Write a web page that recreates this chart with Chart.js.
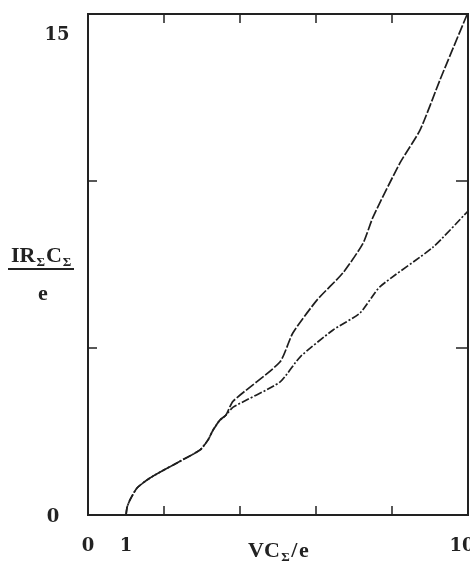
<!DOCTYPE html>
<html>
<head>
<meta charset="utf-8">
<script src="https://cdn.jsdelivr.net/npm/chart.js@4"></script>
<style>
  html, body { margin: 0; padding: 0; background: #fff; }
  #wrap { width: 470px; height: 572px; position: relative; }
</style>
</head>
<body>
<div id="wrap"><canvas id="curves"></canvas></div>
<script>
// values
var upperX = [1.0, 1.03, 1.105, 1.29, 1.63, 2.34, 2.95, 3.16, 3.29, 3.47, 3.63, 3.82, 5.05, 5.39, 6.03, 6.71, 7.24, 7.5, 8.21, 8.74, 9.26, 9.97];
var upperY = [0, 0.24, 0.45, 0.81, 1.11, 1.56, 1.95, 2.25, 2.54, 2.84, 2.99, 3.41, 4.58, 5.45, 6.44, 7.25, 8.14, 8.92, 10.54, 11.53, 13.02, 14.97];
var lowerX = [1.0, 1.03, 1.105, 1.29, 1.63, 2.34, 2.95, 3.16, 3.29, 3.47, 3.63, 3.82, 5.05, 5.58, 6.45, 7.16, 7.68, 9.08, 10.0];
var lowerY = [0, 0.24, 0.45, 0.81, 1.11, 1.56, 1.95, 2.25, 2.54, 2.84, 2.99, 3.23, 3.98, 4.73, 5.54, 6.05, 6.83, 8.02, 9.1];

var xTicks = [2, 4, 6, 8];
var yTicks = [5, 10];
var xTickLabels = ['0', '1', '10'];
var xTickValues = [0, 1, 10];
var yTickLabels = ['0', '15'];
var yTickValues = [0, 15];

function pts(xs, ys) {
    return xs.map(function (x, i) { return {x: x, y: ys[i]}; });
}

var tickFont = 'bold 18px "DejaVu Serif", serif';
var titleFont = 'bold 22px "Liberation Serif", serif';
var subFont = 'bold 13px "Liberation Serif", serif';

// frame, inward ticks, labels and titles
var framePlugin = {
    id: 'frame',
    afterDraw: function (chart) {
        var ctx = chart.ctx;
        var a = chart.chartArea;
        var sx = chart.scales.x, sy = chart.scales.y;
        ctx.save();
        ctx.strokeStyle = '#222';
        ctx.lineWidth = 2;
        ctx.strokeRect(a.left, a.top, a.right - a.left, a.bottom - a.top);

        ctx.lineWidth = 1.5;
        xTicks.forEach(function (v) {
            var px = sx.getPixelForValue(v);
            ctx.beginPath();
            ctx.moveTo(px, a.bottom); ctx.lineTo(px, a.bottom - 9);
            ctx.moveTo(px, a.top); ctx.lineTo(px, a.top + 9);
            ctx.stroke();
        });
        yTicks.forEach(function (v) {
            var py = sy.getPixelForValue(v);
            ctx.beginPath();
            ctx.moveTo(a.left, py); ctx.lineTo(a.left + 9, py);
            ctx.moveTo(a.right, py); ctx.lineTo(a.right - 12, py);
            ctx.stroke();
        });

        ctx.fillStyle = '#222';
        ctx.font = tickFont;
        ctx.textAlign = 'center';
        ctx.textBaseline = 'middle';
        xTickValues.forEach(function (v, i) {
            var px = sx.getPixelForValue(v);
            if (v === 10) px -= 6;
            ctx.fillText(xTickLabels[i], px, 546);
        });
        yTickValues.forEach(function (v, i) {
            var py = sy.getPixelForValue(v);
            if (v === 15) py += 19;
            ctx.fillText(yTickLabels[i], v === 15 ? 57 : 53, py + 2);
        });

        // y title as a fraction
        ctx.textAlign = 'left';
        ctx.textBaseline = 'alphabetic';
        var x = 11;
        [['IR', titleFont, 262], ['\u03a3', subFont, 266], ['C', titleFont, 262], ['\u03a3', subFont, 266]].forEach(function (p) {
            ctx.font = p[1];
            ctx.fillText(p[0], x, p[2]);
            x += ctx.measureText(p[0]).width + 1;
        });
        ctx.fillRect(8, 268, 66, 2);
        ctx.font = titleFont;
        ctx.textAlign = 'center';
        ctx.fillText('e', 43, 300);

        // x title
        ctx.textAlign = 'left';
        x = 248;
        [['VC', titleFont, 557], ['\u03a3', subFont, 561], ['/', titleFont, 557], ['e', titleFont, 557]].forEach(function (p) {
            ctx.font = p[1];
            ctx.fillText(p[0], x, p[2]);
            x += ctx.measureText(p[0]).width + 1.5;
        });
        ctx.restore();
    }
};

var ctx = document.getElementById('curves').getContext('2d');
var chart = new Chart(ctx, {
    type: 'scatter',
    data: {
        datasets: [{
            data: pts(upperX, upperY),
            showLine: true,
            borderColor: '#1e1e1e',
            borderWidth: 1.7,
            borderDash: [10, 2],
            pointRadius: 0,
            tension: 0.2
        }, {
            data: pts(lowerX, lowerY),
            showLine: true,
            borderColor: '#1e1e1e',
            borderWidth: 1.7,
            borderDash: [8, 2, 2, 2],
            pointRadius: 0,
            tension: 0.2
        }]
    },
    options: {
        responsive: true,
        maintainAspectRatio: false,
        animation: false,
        layout: { padding: { left: 88, right: 2, top: 14, bottom: 57 } },
        plugins: { legend: { display: false }, tooltip: { enabled: false } },
        scales: {
            x: { type: 'linear', min: 0, max: 10, display: false },
            y: { type: 'linear', min: 0, max: 15, display: false }
        }
    },
    plugins: [framePlugin]
});
</script>
</body>
</html>
